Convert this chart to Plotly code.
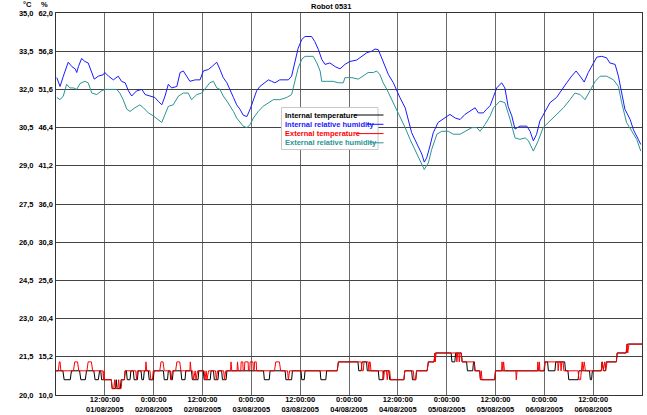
import pandas as pd
import plotly.graph_objects as go

# ---------------- data (hours since 01/08/2005 0:00) ----------------
start = pd.Timestamp("2005-08-01 00:00:00")

int_rh_pts = [
    (0.2, 53.2), (1.0, 52.0), (1.8, 53.4), (3.0, 55.3), (3.9, 54.7), (4.7, 54.4), (5.1, 53.9), (5.5, 54.7),
    (6.3, 55.8), (7.1, 55.4), (7.9, 55.2), (8.8, 53.9), (9.4, 53.0), (10.4, 53.4), (11.6, 53.6), (12.0, 53.9),
    (12.9, 53.4), (14.1, 52.9), (15.3, 53.4), (16.1, 52.7), (17.0, 52.5), (17.8, 51.4), (18.6, 50.7), (19.8, 51.4),
    (21.1, 51.6), (21.9, 50.9), (23.1, 50.7), (24.3, 50.5), (25.1, 50.0), (26.0, 49.5), (26.8, 50.7), (27.6, 52.3),
    (28.4, 51.8), (29.7, 52.0), (30.5, 53.9), (31.3, 54.1), (32.1, 53.4), (32.9, 52.7), (34.2, 52.9), (35.4, 52.9),
    (36.2, 54.1), (37.4, 54.3), (38.3, 54.7), (39.5, 55.3), (40.3, 54.3), (41.1, 53.2), (42.0, 52.5), (42.8, 51.6),
    (43.6, 50.5), (44.4, 49.5), (45.2, 48.9), (46.0, 48.1), (46.9, 47.9), (47.7, 48.9), (48.5, 50.2), (49.3, 51.4),
    (50.1, 52.0), (51.4, 52.5), (52.2, 52.9), (53.0, 52.7), (53.8, 52.5), (55.0, 52.9), (57.1, 52.9), (57.9, 53.4),
    (58.7, 55.4), (59.5, 57.2), (60.4, 58.4), (61.2, 58.8), (62.8, 58.8), (63.6, 58.1), (64.5, 57.0), (65.3, 55.7),
    (66.1, 55.0), (67.3, 55.2), (68.6, 54.7), (69.8, 54.4), (71.0, 55.0), (72.2, 55.4), (73.9, 55.6), (75.1, 56.1),
    (76.4, 56.6), (77.6, 56.8), (78.4, 57.1), (79.2, 57.0), (80.0, 55.9), (80.9, 54.7), (81.7, 53.6), (82.9, 52.5),
    (83.7, 51.4), (84.5, 50.5), (85.8, 49.1), (86.6, 47.5), (87.4, 45.7), (88.6, 44.3), (89.9, 42.8), (90.5, 41.7),
    (91.1, 42.3), (91.9, 43.9), (92.7, 45.7), (93.9, 47.1), (95.6, 47.7), (96.8, 48.2), (98.1, 47.7), (99.3, 47.5),
    (100.5, 48.2), (101.7, 48.6), (103.0, 49.1), (103.8, 48.4), (105.0, 48.4), (105.8, 48.9), (106.7, 49.4),
    (107.5, 50.6), (108.3, 51.8), (109.5, 52.5), (110.3, 51.8), (111.1, 49.3), (112.0, 48.0), (112.8, 46.2),
    (114.0, 46.6), (115.7, 46.6), (116.5, 45.9), (117.3, 44.6), (118.1, 45.5), (118.9, 47.3), (120.2, 48.6),
    (121.4, 49.8), (123.0, 50.5), (124.3, 51.6), (125.5, 52.5), (126.7, 53.4), (127.8, 54.1), (128.8, 53.4),
    (129.8, 52.6), (130.8, 53.9), (132.0, 55.0), (132.9, 56.0), (134.1, 56.1), (135.3, 55.9), (136.1, 55.2),
    (137.4, 55.0), (138.2, 53.4), (139.0, 51.1), (139.8, 48.9), (141.1, 47.5), (141.9, 46.1), (143.1, 44.8),
    (143.7, 44.1),
]

ext_rh_pts = [
    (0.2, 50.5), (1.0, 50.2), (1.8, 50.7), (2.6, 52.3), (3.4, 51.8), (4.3, 51.8), (5.1, 51.6), (5.9, 52.4),
    (7.1, 52.7), (7.9, 52.5), (8.8, 51.1), (10.0, 50.9), (11.2, 51.4), (12.0, 51.6), (13.3, 51.6), (14.9, 51.6),
    (15.7, 51.1), (16.5, 50.2), (17.4, 48.9), (18.2, 48.6), (19.4, 49.1), (20.6, 49.5), (21.5, 49.1), (22.7, 48.4),
    (23.9, 48.0), (25.1, 47.5), (26.0, 47.1), (26.8, 48.2), (27.6, 49.3), (28.8, 49.5), (30.1, 50.7), (31.3, 51.1),
    (32.5, 51.1), (33.3, 50.2), (34.6, 50.9), (35.8, 51.1), (36.6, 51.6), (37.8, 52.5), (38.7, 52.7), (39.5, 51.8),
    (40.3, 51.6), (41.1, 50.7), (42.0, 50.0), (42.8, 49.3), (43.6, 48.6), (44.4, 47.7), (45.2, 47.1), (46.0, 46.6),
    (46.9, 46.4), (47.7, 46.8), (48.5, 47.7), (49.7, 48.6), (50.9, 49.3), (52.2, 49.8), (53.4, 50.2), (55.0, 50.2),
    (56.7, 50.5), (57.9, 50.9), (58.7, 52.7), (59.5, 54.5), (60.4, 55.7), (61.2, 56.1), (63.2, 56.1), (64.1, 55.2),
    (64.9, 54.1), (65.3, 52.7), (66.5, 52.7), (68.1, 52.7), (69.4, 52.5), (70.6, 52.5), (71.0, 53.2), (72.7, 53.2),
    (74.3, 53.0), (75.5, 53.4), (76.7, 53.9), (78.0, 53.9), (78.8, 54.1), (79.6, 53.6), (80.4, 52.5), (81.3, 51.6),
    (82.1, 50.7), (83.3, 49.3), (84.5, 48.0), (85.8, 46.4), (87.0, 44.8), (88.2, 43.4), (89.5, 42.1), (90.5, 40.7),
    (91.5, 41.6), (92.3, 43.4), (93.6, 45.5), (94.8, 45.9), (96.4, 45.9), (97.6, 45.5), (99.3, 45.5), (100.5, 45.9),
    (102.2, 46.4), (103.4, 46.4), (104.2, 45.9), (105.4, 46.8), (106.7, 48.0), (107.5, 49.1), (107.9, 49.3),
    (109.1, 50.0), (110.3, 49.8), (111.6, 47.5), (112.8, 45.0), (114.0, 44.8), (115.3, 45.0), (116.1, 44.6),
    (117.3, 43.2), (118.5, 44.6), (119.7, 46.4), (121.4, 47.3), (123.0, 48.2), (124.7, 49.1), (126.3, 50.2),
    (127.5, 51.1), (128.8, 50.9), (130.0, 50.2), (131.2, 51.4), (132.5, 52.7), (133.7, 53.4), (135.3, 53.4),
    (137.0, 52.9), (138.2, 52.0), (139.0, 49.8), (140.2, 47.1), (141.5, 45.9), (142.7, 44.8), (143.7, 43.2),
]

int_temp_pts = [
    (0, 20.95), (1.7, 20.95), (2.0, 20.6), (3.5, 20.6), (3.8, 20.95),
    (5.8, 20.95), (6.1, 20.6), (7.2, 20.6), (7.5, 20.95),
    (9.3, 20.95), (9.6, 20.6), (10.4, 20.6), (10.7, 20.95), (11.0, 20.95), (11.2, 20.6),
    (13.6, 20.6), (13.8, 20.25), (14.6, 20.25), (14.8, 20.6), (15.0, 20.25), (15.8, 20.25), (16.0, 20.6),
    (16.8, 20.6), (17.0, 20.95),
    (17.3, 20.95), (17.5, 20.6), (18.2, 20.6), (18.4, 20.95),
    (19.0, 20.95), (19.2, 20.6), (20.0, 20.6), (20.2, 20.95),
    (20.9, 20.95), (21.1, 20.6), (21.5, 20.6), (21.7, 20.95),
    (22.7, 20.95), (22.9, 20.6), (23.9, 20.6), (24.1, 20.95),
    (26.4, 20.95), (26.6, 20.6), (27.4, 20.6), (27.6, 20.95),
    (28.0, 20.95), (28.2, 20.6), (28.6, 20.6), (28.8, 20.95),
    (30.7, 20.95), (30.9, 20.6), (31.7, 20.6), (31.9, 20.95),
    (33.3, 20.95), (33.5, 20.6), (34.9, 20.6), (35.1, 20.95),
    (36.2, 20.95), (36.4, 20.6), (37.9, 20.6), (38.1, 20.95),
    (38.7, 20.95), (38.9, 20.6), (39.8, 20.6), (40.0, 20.95),
    (40.7, 20.95), (40.9, 20.6), (41.8, 20.6), (42.0, 20.95),
    (51.0, 20.95), (51.2, 20.6), (52.4, 20.6), (52.6, 20.95),
    (56.3, 20.95), (56.5, 20.6), (57.9, 20.6), (58.1, 20.95),
    (60.2, 20.95), (60.4, 20.6), (61.0, 20.6), (61.2, 20.95),
    (64.9, 20.95), (65.1, 20.6), (66.3, 20.6), (66.5, 20.95),
    (69.1, 20.95), (69.4, 21.3),
    (74.2, 21.3), (74.4, 20.95), (75.0, 20.95), (75.2, 21.3), (76.3, 21.3), (76.5, 20.95),
    (79.2, 20.95), (79.4, 20.6), (80.3, 20.6), (80.5, 20.95),
    (81.8, 20.95), (82.0, 20.6), (85.5, 20.6), (85.7, 20.95),
    (87.4, 20.95), (87.6, 20.6), (88.4, 20.6), (88.6, 20.95),
    (91.2, 20.95), (91.5, 21.3), (92.9, 21.3), (93.2, 21.65),
    (97.1, 21.65), (97.3, 21.3), (98.0, 21.3), (98.2, 21.65), (99.6, 21.65), (99.8, 21.3),
    (100.9, 21.3), (101.1, 20.95), (102.4, 20.95), (102.6, 21.3), (102.8, 21.3), (103.0, 20.95),
    (104.1, 20.95), (104.3, 20.6), (107.8, 20.6), (108.0, 20.95),
    (120.0, 20.95), (120.2, 21.3), (120.8, 21.3), (121.0, 20.95), (122.6, 20.95), (122.8, 21.3),
    (125.0, 21.3), (125.2, 20.95),
    (125.8, 20.95), (126.0, 20.6), (128.3, 20.6), (128.5, 20.95),
    (131.1, 20.95), (131.3, 20.6), (131.6, 20.6), (131.8, 20.95),
    (134.0, 20.95), (134.2, 21.3), (134.6, 20.95), (135.0, 20.95), (135.2, 21.3),
    (137.7, 21.3), (137.9, 21.65), (140.1, 21.65), (140.4, 22.0), (144.0, 22.0),
]

ext_temp_pts = [
    (0, 20.95), (0.6, 20.95), (0.8, 21.3), (1.0, 21.3), (1.2, 20.95),
    (4.3, 20.95), (4.6, 21.3), (5.3, 21.3), (5.6, 20.95),
    (7.6, 20.95), (7.9, 21.3), (8.7, 21.3), (9.0, 20.95),
    (11.5, 20.95), (11.7, 20.6), (11.8, 20.95), (11.9, 20.6),
    (13.6, 20.6), (13.8, 20.25), (14.2, 20.25), (14.4, 20.6), (14.6, 20.25), (15.2, 20.25), (15.4, 20.6),
    (15.6, 20.25), (16.0, 20.25), (16.2, 20.6), (16.8, 20.6), (17.0, 20.95),
    (19.6, 20.95), (19.8, 20.6), (20.0, 20.95),
    (22.0, 20.95), (22.1, 21.3), (22.3, 20.95),
    (23.1, 20.95), (23.3, 20.6), (23.7, 20.6), (23.9, 20.95),
    (25.5, 20.95), (25.8, 21.3), (26.3, 21.3), (26.6, 20.95),
    (28.1, 20.95), (28.3, 20.6), (28.6, 20.95),
    (29.4, 20.95), (29.7, 21.3), (30.4, 21.3), (30.7, 20.95),
    (32.9, 20.95), (33.0, 21.3), (33.2, 20.95),
    (33.6, 20.95), (33.8, 20.6), (34.2, 20.95), (34.4, 20.6), (34.8, 20.95),
    (36.4, 20.95), (36.6, 20.6), (36.9, 20.95), (37.1, 20.6), (37.5, 20.95),
    (39.2, 20.95), (39.4, 20.6), (39.7, 20.95),
    (41.2, 20.95), (41.4, 20.6), (41.7, 20.95),
    (42.9, 20.95), (43.0, 21.3), (43.2, 20.95),
    (44.5, 20.95), (44.6, 21.3), (44.8, 20.95),
    (45.4, 20.95), (45.5, 21.3), (45.9, 21.3), (46.0, 20.95), (46.3, 20.95), (46.4, 21.3), (47.2, 21.3),
    (47.3, 20.95), (47.6, 20.95), (47.7, 21.3), (48.4, 21.3), (48.5, 20.95), (48.7, 20.95), (48.8, 21.3),
    (49.2, 21.3), (49.3, 20.95),
    (53.7, 20.95), (54.0, 21.3), (54.9, 21.3), (55.2, 20.95),
    (56.9, 20.95), (57.1, 20.6), (57.4, 20.95),
    (69.1, 20.95), (69.4, 21.3),
    (75.0, 21.3), (75.2, 20.95), (75.5, 20.95), (75.7, 21.3),
    (76.7, 21.3), (76.9, 20.95), (77.0, 21.3), (77.2, 21.3), (77.4, 20.95),
    (80.3, 20.95), (80.5, 20.6), (80.7, 20.95), (81.2, 20.95), (81.4, 20.6), (81.6, 20.95), (82.0, 20.95),
    (82.2, 20.6), (85.5, 20.6), (85.7, 20.95),
    (87.8, 20.95), (88.0, 20.6), (88.4, 20.6), (88.6, 20.95),
    (91.2, 20.95), (91.5, 21.3),
    (92.9, 21.3), (93.1, 21.65), (93.2, 21.3), (93.4, 21.65),
    (98.4, 21.65), (98.5, 21.3), (98.7, 21.65), (99.0, 21.65), (99.1, 21.3), (99.3, 21.65), (99.6, 21.65),
    (99.8, 21.3),
    (102.7, 21.3), (102.9, 20.95),
    (104.1, 20.95), (104.3, 20.6), (104.5, 20.95), (104.7, 20.6),
    (107.8, 20.6), (108.0, 20.95),
    (109.5, 20.95), (109.6, 21.3), (109.8, 20.95), (110.0, 21.3), (110.2, 20.95),
    (113.0, 20.95), (113.1, 20.6), (113.3, 20.95),
    (118.3, 20.95), (118.4, 21.3), (118.6, 20.95), (118.8, 21.3), (118.9, 20.95),
    (119.9, 20.95), (120.1, 21.3),
    (123.3, 21.3), (123.4, 20.95), (123.6, 21.3), (124.0, 21.3), (124.1, 20.95), (124.3, 21.3), (124.6, 21.3),
    (124.8, 20.95),
    (128.3, 20.95), (128.5, 20.6), (128.9, 20.6), (129.1, 20.95),
    (129.3, 21.3), (129.5, 20.95), (129.8, 21.3), (130.1, 20.95),
    (134.0, 20.95), (134.2, 21.3), (134.5, 20.95), (134.8, 21.3), (135.1, 20.95), (135.4, 21.3),
    (137.7, 21.3), (137.9, 21.65),
    (140.1, 21.65), (140.3, 22.0), (140.5, 21.65), (140.8, 22.0), (144.0, 22.0),
]

temp_ticks = [20.0, 21.5, 23.0, 24.5, 26.0, 27.5, 29.0, 30.5, 32.0, 33.5, 35.0]
temp_tick_labels = ["20,0", "21,5", "23,0", "24,5", "26,0", "27,5", "29,0", "30,5", "32,0", "33,5", "35,0"]
hum_ticks = [10.0, 15.2, 20.4, 25.6, 30.8, 36.0, 41.2, 46.4, 51.6, 56.8, 62.0]
hum_tick_labels = ["10,0", "15,2", "20,4", "25,6", "30,8", "36,0", "41,2", "46,4", "51,6", "56,8", "62,0"]

x_tick_hours = [12, 24, 36, 48, 60, 72, 84, 96, 108, 120, 132]
x_tick_labels = [
    "12:00:00<br>01/08/2005", "0:00:00<br>02/08/2005", "12:00:00<br>02/08/2005",
    "0:00:00<br>03/08/2005", "12:00:00<br>03/08/2005", "0:00:00<br>04/08/2005",
    "12:00:00<br>04/08/2005", "0:00:00<br>05/08/2005", "12:00:00<br>05/08/2005",
    "0:00:00<br>06/08/2005", "12:00:00<br>06/08/2005",
]

series_names = ["Internal temperature", "Internal relative humidity",
                "External temperature", "External relative humidity"]
series_colors = ["#000000", "#1a1aff", "#ff0000", "#2a9494"]

# ---------------- figure ----------------
def to_time(hours):
    return [start + pd.Timedelta(hours=h) for h in hours]

def unzip(pts):
    return [p[0] for p in pts], [p[1] for p in pts]

FONT = "Liberation Sans"
fig = go.Figure()

series = [
    (int_temp_pts, "y"),
    (int_rh_pts, "y2"),
    (ext_temp_pts, "y"),
    (ext_rh_pts, "y2"),
]
for (pts, ax), name, col in zip(series, series_names, series_colors):
    h, v = unzip(pts)
    fig.add_trace(go.Scatter(x=to_time(h), y=v, mode="lines", name=name, yaxis=ax,
                             line=dict(color=col, width=1), showlegend=False))

tickfont = dict(family=FONT, size=7.5, color="#000000", weight="bold")

fig.update_layout(
    width=647, height=415, autosize=False,
    margin=dict(l=56, r=5, t=13, b=20, autoexpand=False),
    paper_bgcolor="white", plot_bgcolor="white",
    font=dict(family=FONT, size=7.5, color="black"),
    xaxis=dict(
        type="date", automargin=False,
        range=[start, start + pd.Timedelta(hours=144)],
        tickvals=to_time(x_tick_hours), ticktext=x_tick_labels,
        tickfont=tickfont, ticks="", ticklabelstandoff=-3,
        showgrid=True, gridcolor="#6a6a6a", gridwidth=1,
        showline=True, linecolor="#333333", linewidth=1, mirror=True, zeroline=False,
        fixedrange=True,
    ),
    yaxis=dict(
        range=[20, 35], tickvals=temp_ticks, ticktext=temp_tick_labels, automargin=False,
        tickfont=tickfont, ticks="", ticklabelstandoff=20,
        showgrid=True, gridcolor="#444444", gridwidth=1,
        showline=True, linecolor="#333333", linewidth=1, mirror=True, zeroline=False,
    ),
    yaxis2=dict(
        range=[10, 62], tickvals=hum_ticks, ticktext=hum_tick_labels, automargin=False,
        tickfont=tickfont, ticks="", ticklabelstandoff=2, overlaying="y", side="left", anchor="x",
        showgrid=False, showline=False, zeroline=False,
    ),
)

# paper helpers (pixel -> paper)
L, R, T, B = 56, 642, 13, 395
def px(x):
    return (x - L) / (R - L)
def py(y):
    return (B - y) / (B - T)

# title and units
fig.add_annotation(text="<b>Robot 0531</b>", x=px(331), y=py(7), xref="paper", yref="paper",
                   showarrow=False, font=dict(family=FONT, size=7.5, color="black"),
                   xanchor="center", yanchor="middle")
fig.add_annotation(text="<b>°C</b>", x=px(21), y=py(5), xref="paper", yref="paper",
                   showarrow=False, font=dict(family=FONT, size=7.5, color="black"),
                   xanchor="left", yanchor="middle")
fig.add_annotation(text="<b>%</b>", x=px(39), y=py(5), xref="paper", yref="paper",
                   showarrow=False, font=dict(family=FONT, size=7.5, color="black"),
                   xanchor="left", yanchor="middle")

# custom legend box
fig.add_shape(type="rect", xref="paper", yref="paper",
              x0=px(281.5), x1=px(378), y0=py(107.5), y1=py(149.5),
              line=dict(color="#c8c8c8", width=1), fillcolor="white", layer="above")
row_y = [115, 124.3, 133.6, 142.8]
text_end = [353.5, 367, 355.5, 369.5]
for name, col, yy, xe in zip(series_names, series_colors, row_y, text_end):
    fig.add_annotation(text="<b>" + name + "</b>", x=px(282.5), y=py(yy), xref="paper", yref="paper",
                       showarrow=False, font=dict(family=FONT, size=7.5, color=col),
                       xanchor="left", yanchor="middle", xshift=0)
    fig.add_shape(type="line", xref="paper", yref="paper", x0=px(xe), x1=px(383.5),
                  y0=py(yy), y1=py(yy), line=dict(color=col, width=1), layer="above")

fig.write_html("out.html", config={"displayModeBar": False},
               post_script="document.body.style.margin='0px';document.body.style.overflow='hidden';")
